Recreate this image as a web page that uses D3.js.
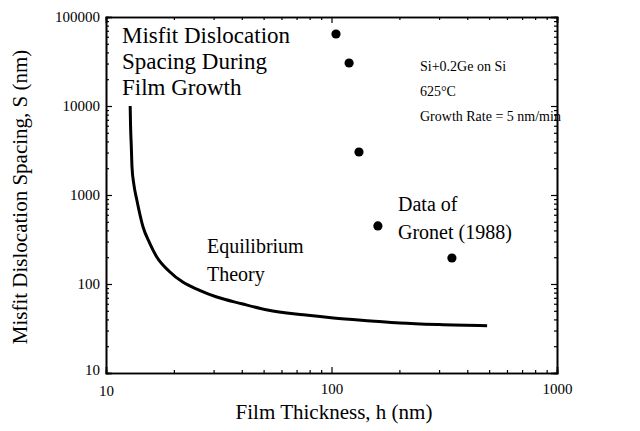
<!DOCTYPE html>
<html><head><meta charset="utf-8">
<script src="https://cdn.jsdelivr.net/npm/d3@7"></script>
<style>body{margin:0;background:#fff}svg{display:block}text{font-family:"Liberation Serif","Times New Roman",serif;fill:#000}</style>
</head><body><svg id="c" width="640" height="431"></svg>
<script>
// Data
const theoryH = [12.8, 12.85, 12.95, 13.04, 13.3, 13.7, 14.6, 15.6, 16.8, 19, 21.9, 26, 31, 40, 52, 75, 102, 150, 201, 300, 490];
const theoryS = [10000, 6000, 3500, 2065, 1300, 880, 437, 290, 201, 140, 105, 85, 71.4, 60, 51, 45, 41.5, 38.5, 36.5, 35, 34];
const gronetH = [104.7, 119.7, 132.4, 160.6, 342];
const gronetS = [64400, 30400, 3040, 449, 196];
const xTickValues = [10, 100, 1000];
const yTickValues = [10, 100, 1000, 10000, 100000];

const svg = d3.select("#c");
const L = 106, R = 557, T = 17, B = 373;
const x = d3.scaleLog().domain([10, 1000]).range([L, R]);
const y = d3.scaleLog().domain([10, 100000]).range([B, T]);

const minorX = [];
for (let d = 10; d < 1000; d *= 10) for (let k = 2; k <= 9; k++) minorX.push(k * d);
const minorY = [];
for (let d = 10; d < 100000; d *= 10) for (let k = 2; k <= 9; k++) minorY.push(k * d);

function drawAxis(gen, tx, ty, minor, major, labels) {
  const g = svg.append("g").attr("transform", `translate(${tx},${ty})`);
  g.call(gen.tickValues(minor).tickSize(-3).tickFormat(""));
  const g2 = svg.append("g").attr("transform", `translate(${tx},${ty})`);
  g2.call(gen.tickValues(major).tickSize(-6).tickFormat(labels ? d3.format("d") : ""));
  [g, g2].forEach(gg => {
    gg.selectAll("path.domain").attr("stroke", "#000").attr("stroke-width", 1.6);
    gg.selectAll(".tick line").attr("stroke", "#000").attr("stroke-width", 1.2);
  });
  return g2;
}
const gb = drawAxis(d3.axisBottom(x), 0, B, minorX, xTickValues, true);
gb.selectAll(".tick text").attr("font-size", 15).attr("dy", "1.15em").attr("y", 4);
drawAxis(d3.axisTop(x), 0, T, minorX, xTickValues, false);
const gl = drawAxis(d3.axisLeft(y), L, 0, minorY, yTickValues, true);
gl.selectAll(".tick text").attr("font-size", 15).attr("x", -6);
gl.selectAll(".tick").filter(d => d === 10).select("text").attr("dy", "0.1em");
gb.selectAll(".tick").filter(d => d === 10).select("text").attr("dy", "1.25em");
drawAxis(d3.axisRight(y), R, 0, minorY, yTickValues, false);
svg.selectAll(".domain").attr("fill", "none");

// theory curve
const pts = theoryH.map((h, i) => [x(h), y(theoryS[i])]);
svg.append("path").attr("d", d3.line().curve(d3.curveMonotoneX)(pts))
  .attr("fill", "none").attr("stroke", "#000").attr("stroke-width", 3);

// Gronet data
svg.selectAll("circle.g").data(gronetH).enter().append("circle")
  .attr("cx", d => x(d)).attr("cy", (d, i) => y(gronetS[i])).attr("r", 4.6).attr("fill", "#000");

// axis titles
svg.append("text").attr("x", 334).attr("y", 419).attr("text-anchor", "middle").attr("font-size", 21)
  .text("Film Thickness, h (nm)");
svg.append("text").attr("transform", "translate(27,197) rotate(-90)").attr("text-anchor", "middle").attr("font-size", 21)
  .text("Misfit Dislocation Spacing, S (nm)");

function lines(arr, x0, y0, lh, fs) {
  arr.forEach((t, i) => svg.append("text").attr("x", x0).attr("y", y0 + i * lh).attr("font-size", fs).text(t));
}
lines(["Misfit Dislocation", "Spacing During", "Film Growth"], 122, 43, 26, 23);
lines(["Si+0.2Ge on Si", "625°C", "Growth Rate = 5 nm/min"], 420, 71, 25, 14);
lines(["Data of", "Gronet (1988)"], 398, 211, 28, 20);
lines(["Equilibrium", "Theory"], 207, 253, 28, 20);
</script></body></html>
